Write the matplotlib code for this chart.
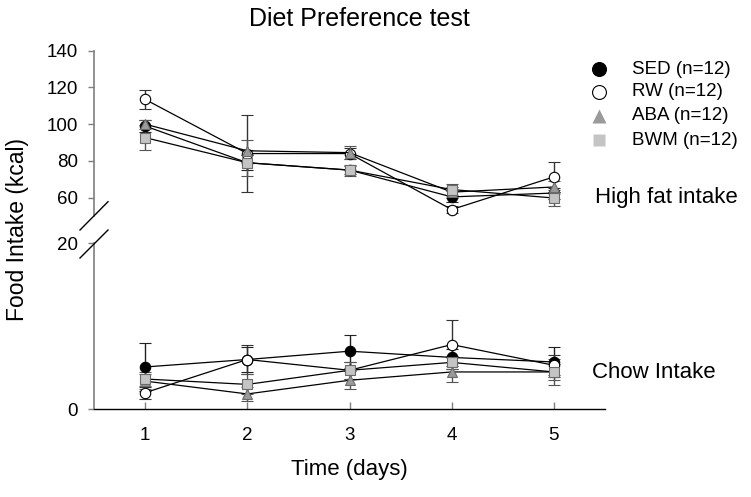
import matplotlib
matplotlib.use("Agg")
import matplotlib.pyplot as plt
from matplotlib.lines import Line2D

plt.rcParams['font.family'] = ['Liberation Sans', 'DejaVu Sans']

days = [1, 2, 3, 4, 5]
groups = ["SED (n=12)", "RW (n=12)", "ABA (n=12)", "BWM (n=12)"]

# High fat intake (kcal)
hf_sed = [99.0, 79.0, 75.0, 60.4, 62.5]
hf_rw = [113.5, 84.0, 84.0, 53.5, 71.3]
hf_aba = [100.0, 85.5, 84.5, 63.0, 65.8]
hf_bwm = [92.7, 79.0, 75.0, 64.4, 59.8]
hf_sed_err = [3.0, 4.0, 2.0, 3.0, 3.0]
hf_rw_err = [5.0, 21.0, 3.0, 2.0, 8.0]
hf_aba_err = [2.5, 6.0, 3.5, 3.0, 3.0]
hf_bwm_err = [7.0, 7.0, 3.0, 3.0, 4.5]

# Chow intake (kcal)
ch_sed = [5.1, 6.0, 7.0, 6.25, 5.7]
ch_rw = [2.0, 6.0, 4.7, 7.8, 5.3]
ch_aba = [3.4, 1.85, 3.5, 4.5, 4.5]
ch_bwm = [3.65, 3.0, 4.7, 5.65, 4.5]
ch_sed_err = [2.9, 1.5, 2.0, 1.0, 1.8]
ch_rw_err = [0.7, 1.7, 1.0, 2.9, 1.2]
ch_aba_err = [0.9, 0.8, 1.1, 1.2, 1.6]
ch_bwm_err = [0.8, 1.2, 1.0, 0.8, 1.0]

top_yticks = [60, 80, 100, 120, 140]
bot_yticks = [0, 20]

styles = [
    dict(marker='o', mfc='black', mec='black', ecolor='#222222'),
    dict(marker='o', mfc='white', mec='black', ecolor='#333333'),
    dict(marker='^', mfc='#9a9a9a', mec='#6a6a6a', ecolor='#555555'),
    dict(marker='s', mfc='#c4c4c4', mec='#6a6a6a', ecolor='#555555'),
]

W, H = 751, 497
fig = plt.figure(figsize=(W / 100, H / 100), dpi=100)

def fx(px):
    return px / W

def fy(py):
    return 1 - py / H

left, right = 94, 605
ax_top = fig.add_axes([fx(left), fy(216), fx(right - left), (216 - 50.7) / H])
ax_bot = fig.add_axes([fx(left), fy(409.3), fx(right - left), (409.3 - 243.3) / H])

hf_series = [(hf_sed, hf_sed_err), (hf_rw, hf_rw_err), (hf_aba, hf_aba_err), (hf_bwm, hf_bwm_err)]
ch_series = [(ch_sed, ch_sed_err), (ch_rw, ch_rw_err), (ch_aba, ch_aba_err), (ch_bwm, ch_bwm_err)]

for ax, series in ((ax_top, hf_series), (ax_bot, ch_series)):
    for (vals, errs), st in zip(series, styles):
        ax.errorbar(days, vals, yerr=errs, color='black', lw=0.9,
                    marker=st['marker'], ms=7.5 if st['marker'] != 's' else 6.8,
                    mfc=st['mfc'], mec=st['mec'], mew=0.8,
                    ecolor=st['ecolor'], elinewidth=1.0, capsize=4.5, capthick=1.0,
                    zorder=3)
    ax.set_xlim(0.5, 5.5)
    for s in ('top', 'right'):
        ax.spines[s].set_visible(False)
    ax.spines['left'].set_color('#7f7f7f')
    ax.spines['left'].set_linewidth(1.2)
    ax.tick_params(axis='y', direction='out', length=4.5, width=1, color='#7f7f7f',
                   labelsize=13.5, pad=7)

ax_top.set_ylim(50, 140)
ax_top.set_yticks(top_yticks)
ax_top.spines['bottom'].set_visible(False)
ax_top.set_xticks([])

ax_bot.set_ylim(0, 20)
ax_bot.set_yticks(bot_yticks)
ax_bot.set_xticks(days)
ax_bot.spines['bottom'].set_color('black')
ax_bot.spines['bottom'].set_linewidth(1.0)
ax_bot.tick_params(axis='x', direction='in', length=5, width=1, color='#7f7f7f',
                   labelsize=13.5, pad=13)

# break marks
for (x0, y0, x1, y1) in [(80, 230, 108, 201.7), (80, 258, 108, 230)]:
    fig.add_artist(Line2D([fx(x0), fx(x1)], [fy(y0), fy(y1)], color='black', lw=1.0,
                          transform=fig.transFigure))

fig.text(fx(359), fy(19), "Diet Preference test", ha='center', va='center', fontsize=18)
fig.text(fx(349.5), fy(470), "Time (days)", ha='center', va='center', fontsize=16)
fig.text(fx(18), fy(230), "Food Intake (kcal)", ha='center', va='center', fontsize=16.5,
         rotation=90)

fig.text(fx(595), fy(198), "High fat intake", ha='left', va='center', fontsize=16)
fig.text(fx(592), fy(372), "Chow Intake", ha='left', va='center', fontsize=16)

# legend
leg_y = [69, 92, 116, 140]
for g, st, yy in zip(groups, styles, leg_y):
    fig.add_artist(Line2D([fx(599)], [fy(yy)], marker=st['marker'], ms=10 if st['marker'] != 's' else 8.5,
                          mfc=st['mfc'], mec=st['mec'] if st['marker'] == 'o' else 'none',
                          mew=0.8, ls='none', transform=fig.transFigure))
    fig.text(fx(632), fy(yy), g, ha='left', va='center', fontsize=13.5)

fig.savefig("out.png", dpi=100)
